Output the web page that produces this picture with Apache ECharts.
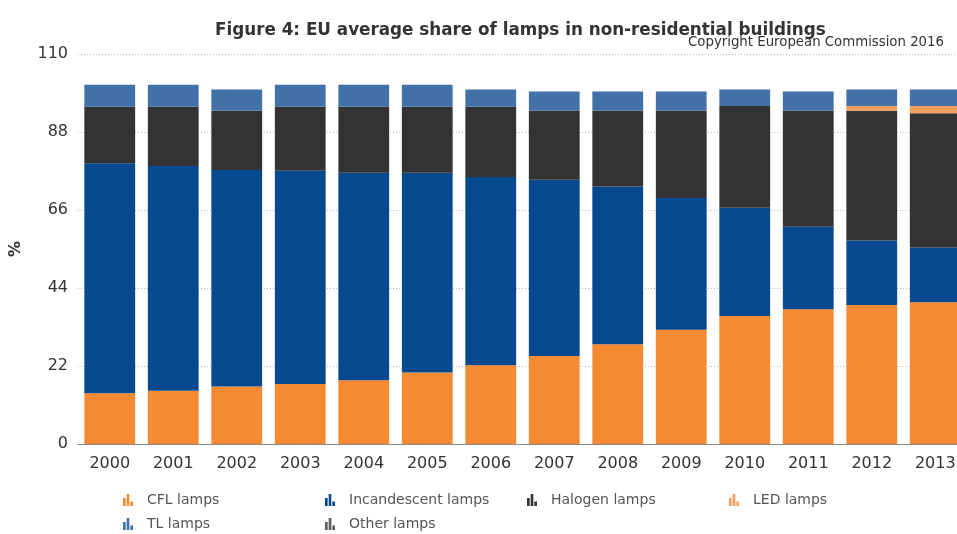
<!DOCTYPE html>
<html>
<head>
<meta charset="utf-8">
<script src="https://cdn.jsdelivr.net/npm/echarts@6/dist/echarts.min.js"></script>
<style>
  html, body { margin: 0; padding: 0; background: #fff; }
  #chart { width: 957px; height: 534px; }
</style>
</head>
<body>
<div id="chart"></div>
<script>
// Survey years
const years = ['2000', '2001', '2002', '2003', '2004', '2005', '2006',
               '2007', '2008', '2009', '2010', '2011', '2012', '2013'];

// Share of each lamp type (%), stacked bottom to top
const cflLamps          = [14.3, 15.0, 16.2, 16.9, 18.0, 20.2, 22.2, 24.8, 28.1, 32.2, 36.1, 38.0, 39.2, 40.0];
const incandescentLamps = [64.9, 63.4, 61.1, 60.2, 58.5, 56.3, 53.1, 49.7, 44.5, 37.2, 30.5, 23.3, 18.2, 15.4];
const halogenLamps      = [15.9, 16.7, 16.7, 18.0, 18.6, 18.6, 19.8, 19.5, 21.4, 24.6, 28.7, 32.7, 36.6, 37.9];
const ledLamps          = [0, 0, 0, 0, 0, 0, 0, 0, 0, 0, 0, 0, 1.3, 2.0];
const tlLamps           = [6.2, 6.2, 6.0, 6.2, 6.2, 6.2, 4.9, 5.4, 5.4, 5.4, 4.7, 5.4, 4.7, 4.7];
const otherLamps        = [0, 0, 0, 0, 0, 0, 0, 0, 0, 0, 0, 0, 0, 0];

// Y axis ticks
const yTicks = [0, 22, 44, 66, 88, 110];

const seriesDefs = [
  { name: 'CFL lamps',          data: cflLamps,          color: '#f58a33' },
  { name: 'Incandescent lamps', data: incandescentLamps, color: '#07498e' },
  { name: 'Halogen lamps',      data: halogenLamps,      color: '#333333' },
  { name: 'LED lamps',          data: ledLamps,          color: '#f59e5e' },
  { name: 'TL lamps',           data: tlLamps,           color: '#4271a8' },
  { name: 'Other lamps',        data: otherLamps,        color: '#5f5f5f' }
];

// Small column-chart glyph used as legend marker
const barIcon = 'path://M0,4H2.6V12H0Z M3.6,0H6.2V12H3.6Z M7.2,7.5H9.8V12H7.2Z';

const legendSlots = [
  { name: 'CFL lamps',          left: 123, top: 493 },
  { name: 'Incandescent lamps', left: 325, top: 493 },
  { name: 'Halogen lamps',      left: 527, top: 493 },
  { name: 'LED lamps',          left: 729, top: 493 },
  { name: 'TL lamps',           left: 123, top: 517 },
  { name: 'Other lamps',        left: 325, top: 517 }
];

const chart = echarts.init(document.getElementById('chart'), null, { renderer: 'canvas' });

chart.setOption({
  animation: false,
  backgroundColor: '#ffffff',
  title: [
    {
      text: 'Figure 4: EU average share of lamps in non-residential buildings',
      left: 215,
      top: 22,
      padding: 0,
      textStyle: {
        fontFamily: 'DejaVu Sans',
        fontWeight: 'bold',
        fontSize: 16.8,
        color: '#333333'
      }
    },
    {
      text: 'Copyright European Commission 2016',
      right: 13,
      top: 36,
      padding: 0,
      textStyle: {
        fontFamily: 'DejaVu Sans',
        fontWeight: 'normal',
        fontSize: 13.3,
        color: '#333333'
      }
    }
  ],
  legend: legendSlots.map(s => ({
    data: [s.name],
    left: s.left,
    top: s.top,
    padding: 0,
    icon: barIcon,
    itemWidth: 10,
    itemHeight: 13,
    selectedMode: false,
    textStyle: {
      fontFamily: 'DejaVu Sans',
      fontSize: 14,
      color: '#555555',
      padding: [0, 0, 0, 9]
    }
  })),
  grid: {
    left: 78,
    width: 889,
    top: 54,
    bottom: 90,
    containLabel: false,
    outerBoundsMode: 'none'
  },
  xAxis: {
    type: 'category',
    data: years,
    axisLine: { show: true, lineStyle: { color: '#8a8a8a', width: 1 } },
    axisTick: { show: false },
    axisLabel: {
      fontFamily: 'DejaVu Sans',
      fontSize: 16,
      color: '#333333',
      margin: 12
    }
  },
  yAxis: {
    type: 'value',
    min: yTicks[0],
    max: yTicks[yTicks.length - 1],
    interval: yTicks[1] - yTicks[0],
    name: '%',
    nameLocation: 'middle',
    nameRotate: 90,
    nameGap: 54,
    nameTextStyle: {
      fontFamily: 'DejaVu Sans',
      fontWeight: 'bold',
      fontSize: 16,
      color: '#333333'
    },
    axisLine: { show: false },
    axisTick: { show: false },
    axisLabel: {
      fontFamily: 'DejaVu Sans',
      fontSize: 16,
      color: '#333333',
      margin: 10
    },
    splitLine: {
      show: true,
      lineStyle: { color: '#b8b8b8', type: [1, 2], width: 1 }
    }
  },
  series: seriesDefs.map(s => ({
    name: s.name,
    type: 'bar',
    stack: 'share',
    data: s.data,
    barCategoryGap: '20%',
    itemStyle: { color: s.color },
    emphasis: { disabled: true }
  }))
});
</script>
</body>
</html>
